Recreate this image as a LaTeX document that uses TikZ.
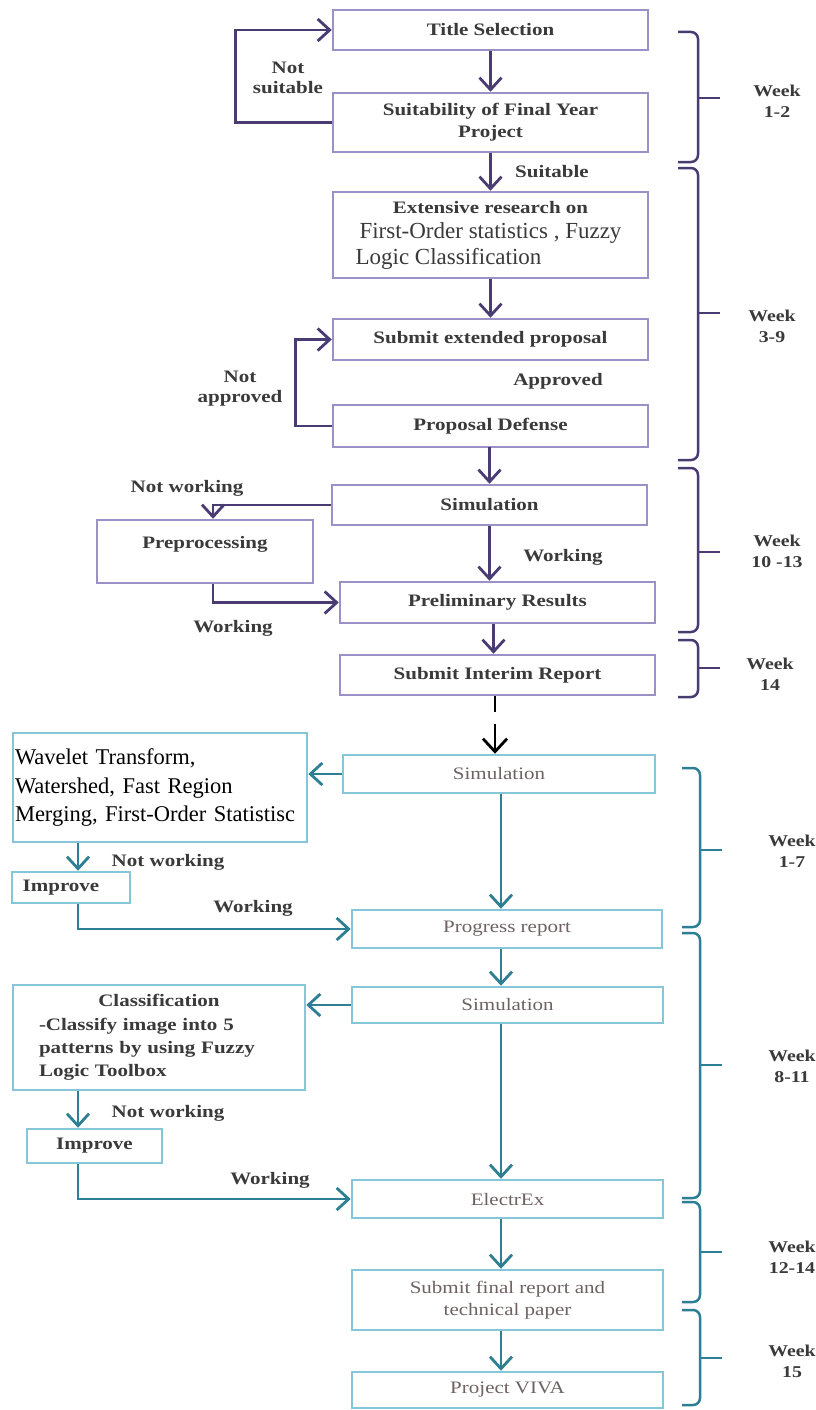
\documentclass[tikz,border=0pt]{standalone}
\usepackage{fontspec}
\setmainfont{Liberation Serif}
\newfontfamily\wfont{Liberation Serif}[FakeStretch=1.2]
\usetikzlibrary{arrows.meta}
\definecolor{pbox}{HTML}{9C91C6}
\definecolor{parr}{HTML}{4A3B73}
\definecolor{tbox}{HTML}{86C6D9}
\definecolor{tarr}{HTML}{2E7E94}
\definecolor{txt}{HTML}{3A3A3A}
\definecolor{ttxt}{HTML}{6E6262}
\tikzset{
  pb/.style={draw=pbox, line width=2.5pt, inner sep=0pt, font=\wfont\bfseries\fontsize{17.5}{22}\selectfont, text=txt, minimum width=315pt},
  tb/.style={draw=tbox, line width=2.5pt, inner sep=0pt, font=\wfont\fontsize{17.5}{22}\selectfont, text=ttxt, minimum width=311pt},
  tbk/.style={draw=tbox, line width=2.5pt, inner sep=0pt, text=black},
  pa/.style={draw=parr, line width=2.8pt, -{Straight Barb[length=12pt,width=22pt]}},
  ta/.style={draw=tarr, line width=2.8pt, -{Straight Barb[length=12pt,width=22pt]}},
  ba/.style={draw=black, line width=2.8pt, dash pattern=on 16pt off 12pt on 60pt, -{Straight Barb[length=13pt,width=24pt]}},
  lbl/.style={font=\wfont\bfseries\fontsize{17.5}{20}\selectfont, text=txt, align=center, inner sep=0pt},
  brp/.style={draw=parr, line width=2.5pt, rounded corners=7pt},
  brt/.style={draw=tarr, line width=2.5pt, rounded corners=7pt},
  wk/.style={font=\wfont\bfseries\fontsize{16.5}{21}\selectfont, text=txt, align=center, inner sep=0pt},
}
\begin{document}
\begin{tikzpicture}[x=1pt,y=-1pt]
\useasboundingbox (0,0) rectangle (816,1410);
\fill[white] (0,0) rectangle (816,1410);

% ---------- purple part ----------
\node[pb, minimum height=40pt] (title) at (490.5,30) {Title Selection};
\node[pb, minimum height=59pt, align=center] (suit) at (490.5,122.5) {Suitability of Final Year\\Project};
\node[pb, minimum height=86pt, align=center, font=\rmfamily\fontsize{23}{25.5}\selectfont] (research) at (490.5,235)
  {{\wfont\bfseries\fontsize{17.5}{25.5}\selectfont Extensive research on}\\First-Order statistics , Fuzzy\hspace*{64pt}\\Logic Classification\hspace*{84pt}};
\node[pb, minimum height=41pt] (submitx) at (490.5,339.5) {Submit extended proposal};
\node[pb, minimum height=42pt] (defense) at (490.5,426) {Proposal Defense};
\node[pb, minimum height=40pt] (sim1) at (489.5,505) {Simulation};
\node[pb, minimum height=63pt, minimum width=216pt, text height=12pt, text depth=18pt] (prep) at (205,551.5) {Preprocessing};
\node[pb, minimum height=41pt] (prelim) at (497.5,602.5) {Preliminary Results};
\node[pb, minimum height=40pt] (interim) at (497.5,675) {Submit Interim Report};

\draw[pa] (title.south) -- (suit.north);
\draw[pa] (suit.south) -- (research.north);
\draw[pa] (research.south) -- (submitx.north);
\draw[pa] (defense.south) -- (sim1.south |- defense.south) -- (sim1.north);
\draw[pa] (sim1.south) -- (sim1.south |- prelim.north);
\draw[pa] (prelim.south) ++(-4,0) coordinate (pi) -- (pi |- interim.north);
\draw[pa] (suit.west) -- ++(-96,0) |- (title.west);
\draw[pa] (defense.west) -- ++(-36,0) |- (submitx.west);
\draw[pa] (sim1.west) -| ([xshift=8pt]prep.north);
\draw[pa] ([xshift=8pt]prep.south) |- (prelim.west);

\node[lbl] (l1) at (288,78) {Not\\suitable};
\node[lbl] (l2) at (552,172) {Suitable};
\node[lbl] (l3) at (240,389) {Not\\approved};
\node[lbl] (l4) at (558,381) {Approved};
\node[lbl] (l5) at (187,488) {Not working};
\node[lbl] (l6) at (563,557) {Working};
\node[lbl] (l7) at (233,628) {Working};

% purple braces
\draw[brp] (678,32) -- (698,32) -- (698,162) -- (678,162);
\draw[parr, line width=2.5pt] (698,98) -- (720,98);
\draw[brp] (678,168) -- (698,168) -- (698,460) -- (678,460);
\draw[parr, line width=2.5pt] (698,313) -- (720,313);
\draw[brp] (678,468) -- (698,468) -- (698,632) -- (678,632);
\draw[parr, line width=2.5pt] (698,552) -- (720,552);
\draw[brp] (678,640) -- (698,640) -- (698,697) -- (678,697);
\draw[parr, line width=2.5pt] (698,668) -- (720,668);
\node[wk] (w1) at (777,101) {Week\\1-2};
\node[wk] (w2) at (772,326) {Week\\3-9};
\node[wk] (w3) at (777,551) {Week\\10 -13};
\node[wk] (w4) at (770,674) {Week\\14};

% ---------- teal part ----------
\node[tb, minimum height=38pt, minimum width=312pt] (sim2) at (499,774) {Simulation};
\node[tbk, minimum width=294pt, minimum height=109pt, align=left, text width=290pt, font=\rmfamily\fontsize{22.5}{28.5}\selectfont] (wave) at (160,787.5)
  {Wavelet Transform,\\Watershed, Fast Region\\Merging, First-Order Statistisc};
\node[tbk, minimum width=118pt, minimum height=31pt, font=\wfont\bfseries\fontsize{17.5}{22}\selectfont, text=txt] (imp1) at (71,887.5) {Improve\hspace*{20pt}};
\node[tb, minimum height=38pt, minimum width=310pt] (prog) at (507,929) {Progress report};
\node[tb, minimum height=36pt] (sim3) at (507.5,1005) {Simulation};
\node[tbk, minimum width=292pt, minimum height=105pt, align=left, text width=240pt, font=\wfont\bfseries\fontsize{17.5}{23.3}\selectfont, text=txt] (class) at (159,1037.5)
  {\makebox[240pt]{Classification}\\-Classify image into 5\\patterns by using Fuzzy\\Logic Toolbox};
\node[tbk, minimum width=135pt, minimum height=34pt, font=\wfont\bfseries\fontsize{17.5}{22}\selectfont, text=txt] (imp2) at (94.5,1146) {Improve};
\node[tb, minimum height=38pt] (elec) at (507.5,1199) {ElectrEx};
\node[tb, minimum height=60pt, align=center] (final) at (507.5,1300) {Submit final report and\\technical paper};
\node[tb, minimum height=36pt] (viva) at (507.5,1390) {Project VIVA};

\coordinate (bc) at (495,0);
\coordinate (tc) at (501,0);
\coordinate (tx) at (78,0);
\draw[ba] (bc |- interim.south) -- (bc |- sim2.north);
\draw[ta] (tc |- sim2.south) -- (tc |- prog.north);
\draw[ta] (tc |- prog.south) -- (tc |- sim3.north);
\draw[ta] (tc |- sim3.south) -- (tc |- elec.north);
\draw[ta] (tc |- elec.south) -- (tc |- final.north);
\draw[ta] (tc |- final.south) -- (tc |- viva.north);
\draw[ta] (sim2.west) -- (sim2.west -| wave.east);
\draw[ta] (tx |- wave.south) -- (tx |- imp1.north);
\draw[ta] (tx |- imp1.south) |- (prog.west);
\draw[ta] (sim3.west) -- (sim3.west -| class.east);
\draw[ta] (tx |- class.south) -- (tx |- imp2.north);
\draw[ta] (tx |- imp2.south) |- (elec.west);

\node[lbl] (l8) at (168,862) {Not working};
\node[lbl] (l9) at (253,908) {Working};
\node[lbl] (l10) at (168,1113) {Not working};
\node[lbl] (l11) at (270,1180) {Working};

% teal braces
\draw[brt] (682,768) -- (700,768) -- (700,927) -- (682,927);
\draw[tarr, line width=2.5pt] (700,850) -- (722,850);
\draw[brt] (682,933) -- (700,933) -- (700,1198) -- (682,1198);
\draw[tarr, line width=2.5pt] (700,1065) -- (722,1065);
\draw[brt] (682,1202) -- (700,1202) -- (700,1302) -- (682,1302);
\draw[tarr, line width=2.5pt] (700,1252) -- (722,1252);
\draw[brt] (682,1310) -- (700,1310) -- (700,1405) -- (682,1405);
\draw[tarr, line width=2.5pt] (700,1358) -- (722,1358);
\node[wk] (w5) at (792,851) {Week\\1-7};
\node[wk] (w6) at (792,1066) {Week\\8-11};
\node[wk] (w7) at (792,1257) {Week\\12-14};
\node[wk] (w8) at (792,1361) {Week\\15};
\end{tikzpicture}
\end{document}
